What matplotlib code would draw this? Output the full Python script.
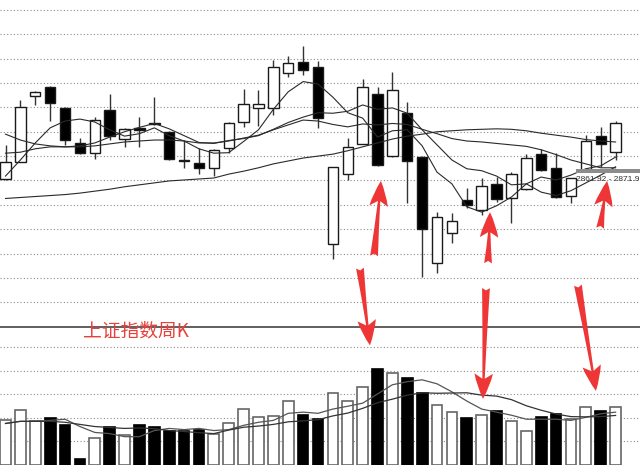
import matplotlib.pyplot as plt
import numpy as np

plt.rcParams['font.family'] = ['Noto Sans CJK SC', 'DejaVu Sans']

# weekly candles of the index
opens = [2853, 2888, 3023, 3042, 2999, 2927, 2906, 2995, 2935, 2958, 2968, 2950, 2891, 2886,
         2876, 2917, 2970, 2999, 2999, 3071, 3093, 3083, 2720, 2863, 2925, 3028, 2900, 2989,
         2898, 2681, 2742, 2810, 2789, 2843, 2814, 2832, 2904, 2876, 2818, 2871, 2941, 2908]
highs = [2923, 3015, 3033, 3043, 3001, 2937, 2980, 3028, 2958, 2980, 3021, 2951, 2933, 2917,
         2915, 2970, 3038, 3036, 3097, 3106, 3126, 3095, 2878, 2937, 3058, 3042, 3073, 3011,
         2900, 2785, 2783, 2835, 2855, 2857, 2867, 2904, 2915, 2906, 2856, 2943, 2960, 2972]
lows = [2851, 2887, 3005, 2972, 2923, 2905, 2894, 2933, 2919, 2919, 2964, 2893, 2876, 2863,
        2859, 2906, 2960, 2962, 2984, 3062, 3067, 2958, 2689, 2851, 2925, 2880, 2898, 2804,
        2652, 2660, 2722, 2793, 2779, 2806, 2763, 2830, 2869, 2814, 2804, 2869, 2878, 2892]
closes = [2888, 3001, 3032, 3009, 2933, 2906, 2974, 2941, 2956, 2954, 2966, 2894, 2889, 2876,
          2912, 2968, 3007, 3007, 3083, 3091, 3077, 2978, 2878, 2919, 3042, 2882, 3036, 2890,
          2750, 2775, 2767, 2800, 2839, 2812, 2863, 2896, 2871, 2816, 2855, 2931, 2925, 2968]
volumes = [189, 232, 185, 198, 168, 26, 116, 159, 129, 168, 163, 146, 142, 150, 133, 176,
           236, 202, 206, 271, 211, 194, 305, 271, 331, 408, 391, 370, 305, 254, 224, 198,
           211, 228, 185, 142, 202, 215, 194, 245, 228, 245]

# moving average lines as drawn
ma5 = [2859, 2892, 2927, 2958, 2972, 2976, 2970, 2954, 2941, 2946, 2958, 2942, 2931, 2915,
       2906, 2907, 2930, 2954, 2996, 3032, 3053, 3048, 3021, 2989, 2978, 2939, 2952, 2954,
       2921, 2867, 2843, 2796, 2785, 2798, 2816, 2843, 2857, 2851, 2861, 2874, 2880, 2898]
ma10 = [2906, 2908, 2915, 2919, 2919, 2921, 2927, 2939, 2950, 2959, 2967, 2956, 2942, 2928,
        2926, 2932, 2936, 2942, 2955, 2969, 2980, 2989, 2988, 2992, 3005, 2996, 2999, 2988,
        2954, 2923, 2892, 2874, 2870, 2859, 2841, 2843, 2826, 2819, 2829, 2845, 2861, 2878]
ma20 = [2945, 2933, 2925, 2921, 2919, 2919, 2921, 2925, 2929, 2931, 2933, 2933, 2931, 2927,
        2927, 2931, 2937, 2943, 2954, 2964, 2974, 2972, 2965, 2960, 2966, 2964, 2967, 2965,
        2955, 2946, 2936, 2931, 2929, 2926, 2923, 2920, 2913, 2903, 2892, 2884, 2876, 2876]
ma_long = [2813, 2815, 2817, 2819, 2821, 2824, 2828, 2832, 2837, 2841, 2845, 2849, 2851, 2853,
           2855, 2863, 2869, 2876, 2884, 2890, 2896, 2900, 2904, 2911, 2919, 2927, 2935, 2941,
           2945, 2950, 2952, 2954, 2955, 2956, 2955, 2952, 2947, 2943, 2939, 2934, 2931, 2929]
vol_ma5 = [176, 185, 185, 189, 194, 163, 138, 133, 120, 120, 146, 155, 150, 155, 146, 150,
           168, 181, 189, 219, 224, 219, 237, 249, 262, 301, 340, 353, 361, 344, 310, 271,
           237, 224, 211, 194, 194, 194, 189, 202, 217, 224]
vol_ma10 = [176, 185, 185, 185, 181, 172, 163, 159, 155, 157, 154, 146, 142, 137, 133, 148,
            160, 165, 172, 183, 187, 192, 208, 220, 240, 264, 279, 296, 306, 304, 305, 306,
            296, 292, 277, 251, 232, 216, 205, 204, 205, 210]

price_grid = np.arange(2600, 3201, 50)
vol_grid = [100, 200, 300, 400, 500]

band_lo, band_hi = 2865, 2874
band_label = '2861.92 - 2871.9'
title = '上证指数周K'

# red arrows: (tail week, tail price, head week, head price / volume)
arrows_up = [(25.77, 2695, 26.23, 2849),
             (33.43, 2680, 33.56, 2785),
             (40.96, 2752, 41.43, 2849)]
arrows_down = [(24.82, 2670, 25.49, 507),
               (33.29, 2629, 33.09, 280),
               (39.47, 2635, 40.68, 314)]

x = np.arange(1, len(closes) + 1)
up = [c >= o for o, c in zip(opens, closes)]

fig = plt.figure(figsize=(6.4, 4.65), dpi=100)
split = 0.2974
ax = fig.add_axes([0, split, 1, 1 - split])
axv = fig.add_axes([0, 0, 1, split])
for a in (ax, axv):
    a.set_facecolor('none')
    a.set_xlim(0.63, 43.64)
    for s in a.spines.values():
        s.set_visible(False)
    a.tick_params(left=False, bottom=False, labelleft=False, labelbottom=False)
    a.set_xticks([])

grid_kw = dict(color='#8c8c8c', linestyle=(0, (1, 2)), linewidth=0.8)

# price panel
ax.set_ylim(2549.7, 3220.5)
ax.set_yticks(price_grid)
ax.grid(axis='y', **grid_kw)
w = 0.7
for xi, o, h, l, c, u in zip(x, opens, highs, lows, closes, up):
    ax.vlines(xi, l, h, color='#333333', linewidth=1, zorder=2)
    ax.bar(xi, abs(c - o), bottom=min(o, c), width=w,
           color='white' if u else 'black', edgecolor='#1a1a1a', linewidth=1, zorder=3)

for ma in (ma_long, ma20, ma10, ma5):
    ax.plot(x, ma, color='#2a2a2a', linewidth=0.8, zorder=4)

ax.fill_between([39.35, 43.7], band_lo, band_hi, color='#8c8c8c', linewidth=0, zorder=5)
ax.text(39.35, 2851, band_label, fontsize=6, family='Liberation Sans', color='#333333',
        va='center', ha='left', zorder=6)

# volume panel
axv.set_ylim(0, 586)
axv.set_yticks(vol_grid)
axv.grid(axis='y', **grid_kw)
axv.spines['top'].set_visible(True)
axv.spines['top'].set_color('#444444')
axv.spines['top'].set_linewidth(1.2)
axv.bar(x, volumes, width=0.72,
        color=['white' if u else 'black' for u in up],
        edgecolor=['#666666' if u else 'black' for u in up], linewidth=1.2, zorder=3)
axv.plot(x, vol_ma5, color='#555555', linewidth=0.9, zorder=4)
axv.plot(x, vol_ma10, color='#333333', linewidth=0.9, zorder=4)

fig.text(83 / 640, 1 - 331 / 465, title, color='#e8413c', fontsize=13.5, va='center')

arrow_kw = dict(arrowstyle='fancy,head_length=1.3,head_width=0.95,tail_width=0.4',
                color='#ee3636', mutation_scale=14, shrinkA=0, shrinkB=0, linewidth=0)
for tx, ty, hx, hy in arrows_up:
    ax.annotate('', xy=(hx, hy), xytext=(tx, ty), arrowprops=arrow_kw,
                annotation_clip=False, zorder=7)
for tx, ty, hx, hy in arrows_down:
    axv.annotate('', xy=(hx, hy), xytext=(tx, ty), textcoords=ax.transData,
                 arrowprops=arrow_kw, annotation_clip=False, zorder=7)

fig.savefig('out.png', dpi=100, facecolor='white')
